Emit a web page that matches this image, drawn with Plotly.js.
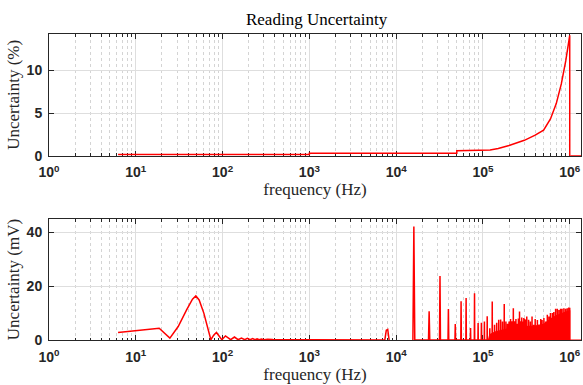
<!DOCTYPE html>
<html><head><meta charset="utf-8">
<script src="https://cdn.plot.ly/plotly-3.0.1.min.js"></script>
<style>html,body{margin:0;padding:0;background:#fff;}#chart{width:583px;height:385px;}</style>
</head><body><div id="chart"></div>
<script>
// ---- tick labels ----
const decadeVals = [1, 10, 100, 1000, 10000, 100000, 1000000];
const decadeLabels = ['10<sup>0</sup>', '10<sup>1</sup>', '10<sup>2</sup>', '10<sup>3</sup>', '10<sup>4</sup>', '10<sup>5</sup>', '10<sup>6</sup>'];
const topYTicks = [0, 5, 10];
const topYLabels = ['0', '5', '10'];
const bottomYTicks = [0, 20, 40];
const bottomYLabels = ['0', '20', '40'];

// ---- top panel: reading uncertainty (%) ----
const topFreq = [6.25, 1000, 1000, 50000, 50000, 100000, 121000, 150000, 200000, 300000, 400000, 500000, 600000, 700000, 800000, 900000, 1000000, 1000000, 1350000];
const topUnc  = [0.15, 0.15, 0.3, 0.3, 0.58, 0.6, 0.67, 0.85, 1.2, 1.8, 2.4, 3.0, 4.3, 6.1, 8.4, 11.1, 14.1, 0, 0];

// ---- bottom panel: uncertainty (mV) ----
// low-frequency part (Hz)
const lowFreq = [6.25, 18.6, 24.7, 30.8, 38.5, 45, 49.2, 53.7, 60.8, 66.4, 73.3, 79, 85, 98, 108, 124, 137, 151, 165, 180, 193, 208, 222, 237, 250, 265, 280, 300, 330, 380, 450, 600, 1000, 3000, 7400, 7700, 8000, 8300];
const lowUnc  = [2.8, 4.4, 0.7, 5.0, 11.2, 15.2, 16.4, 14.9, 10.0, 5.0, 0.1, 1.8, 2.8, 0.1, 1.5, 0.1, 1.1, 0.1, 0.7, 0.1, 0.6, 0.1, 0.5, 0.1, 0.4, 0.1, 0.35, 0.1, 0.3, 0.15, 0.2, 0.1, 0.05, 0.02, 0, 3.6, 3.9, 0];
// harmonic spikes (kHz)
const harmFreqKHz = [16, 24, 32, 40, 48, 56, 64, 72, 80, 88, 96, 104, 112, 120, 128, 136, 144, 152, 160, 168, 176, 184, 192, 200, 208, 216, 224, 232, 240, 248, 256, 264, 272, 280, 288, 296, 304, 312, 320, 336, 352, 368, 384, 400, 424, 440, 464, 480, 504, 528, 552, 576, 600, 632, 656, 688, 720, 752, 784, 816, 856, 896, 936, 976, 1000];
const harmUnc     = [42.2, 10.7, 23.8, 11.5, 5.9, 14.4, 15.6, 4.5, 17.4, 6.3, 6.4, 6.9, 8.8, 4.4, 14.3, 5.7, 6.4, 7.5, 7.6, 6.9, 13.4, 6.9, 6.0, 6.9, 7.8, 7.0, 11.8, 7.0, 7.8, 6.0, 8.0, 10.6, 7.0, 8.4, 6.9, 8.2, 7.8, 7.4, 8.7, 7.5, 6.9, 8.7, 5.7, 7.8, 7.4, 5.7, 7.8, 7.4, 8.2, 6.9, 9.4, 8.7, 10.0, 10.0, 10.4, 11.6, 11.6, 11.2, 11.6, 11.6, 11.8, 11.6, 11.8, 12.1, 12.0];
// dense noise floor above ~120 kHz (kHz)
const floorFreqKHz = [116, 120, 140, 170, 200, 250, 300, 400, 500, 550, 600, 700, 800, 900, 1000, 1000, 1350];
const floorUnc     = [0, 2.0, 3.0, 3.6, 4.2, 4.6, 5.0, 5.2, 5.8, 6.8, 7.8, 9.0, 9.8, 10.4, 10.8, 0, 0];

// ---- build traces ----
const RED = '#ff0000';
const spikeHalfWidthKHz = 0.4;
const spikeX = [], spikeY = [];
harmFreqKHz.forEach((f, i) => {
  spikeX.push((f - spikeHalfWidthKHz) * 1000, f * 1000, (f + spikeHalfWidthKHz) * 1000);
  spikeY.push(0, harmUnc[i], 0);
});

const traces = [
  {x: topFreq, y: topUnc, xaxis: 'x', yaxis: 'y', mode: 'lines', line: {color: RED, width: 1.5}, hoverinfo: 'skip'},
  {x: lowFreq, y: lowUnc, xaxis: 'x2', yaxis: 'y2', mode: 'lines', line: {color: RED, width: 1.5}, hoverinfo: 'skip'},
  {x: floorFreqKHz.map(f => f * 1000), y: floorUnc, xaxis: 'x2', yaxis: 'y2', mode: 'lines', fill: 'tozeroy', fillcolor: RED, line: {color: RED, width: 1.2}, hoverinfo: 'skip'},
  {x: spikeX, y: spikeY, xaxis: 'x2', yaxis: 'y2', mode: 'lines', line: {color: RED, width: 1.5}, hoverinfo: 'skip'}
];

const minorVals = [];
decadeVals.slice(0, 6).forEach(d => { for (let m = 2; m <= 9; m++) minorVals.push(d * m); });

const AX = '#262626';
const bold = s => '<b>' + s + '</b>';
const tickFont = {family: 'Liberation Sans, Arial, sans-serif', size: 14, color: AX};
const titleFont = {family: 'Liberation Serif, Times New Roman, serif', size: 17, color: AX};

function xAxis(anchor) {
  return {
    type: 'log', range: [0, 6.13], anchor: anchor,
    tickmode: 'array', tickvals: decadeVals, ticktext: decadeLabels.map(bold),
    ticks: 'inside', ticklen: 5, tickwidth: 1, tickcolor: AX,
    showline: true, linecolor: AX, linewidth: 1, mirror: 'ticks',
    showgrid: true, gridcolor: '#dedede', gridwidth: 1, zeroline: false,
    minor: {tickmode: 'array', tickvals: minorVals, ticks: 'inside', ticklen: 2.5, tickcolor: AX,
            showgrid: true, gridcolor: '#d4d4d4', griddash: 'dot', gridwidth: 1},
    tickfont: tickFont, layer: 'below traces', ticklabelstandoff: 4,
    title: {text: 'frequency (Hz)', font: titleFont, standoff: 1}
  };
}
function yAxis(anchor, range, ticks, labels, domain, label) {
  return {
    range: range, anchor: anchor, domain: domain,
    tickmode: 'array', tickvals: ticks, ticktext: labels.map(bold),
    ticks: 'inside', ticklen: 5, tickwidth: 1, tickcolor: AX,
    showline: true, linecolor: AX, linewidth: 1, mirror: 'ticks',
    showgrid: true, gridcolor: '#dedede', gridwidth: 1, zeroline: false,
    tickfont: tickFont, layer: 'below traces', ticklabelstandoff: 3,
    title: {text: label, font: titleFont, standoff: 2}
  };
}

const layout = {
  width: 583, height: 385,
  margin: {l: 49, r: 2, t: 34, b: 45},
  paper_bgcolor: '#ffffff', plot_bgcolor: '#ffffff',
  showlegend: false,
  title: {text: 'Reading Uncertainty', font: {family: 'Liberation Serif, Times New Roman, serif', size: 17, color: '#000000'},
          x: 0.543, xanchor: 'center', y: 0.951, yanchor: 'middle', yref: 'container'},
  xaxis: xAxis('y'),
  yaxis: yAxis('x', [0, 14.25], topYTicks, topYLabels, [0.6023, 1], 'Uncertainty (%)'),
  xaxis2: xAxis('y2'),
  yaxis2: yAxis('x2', [0, 45], bottomYTicks, bottomYLabels, [0, 0.3954], 'Uncertainty (mV)')
};

Plotly.newPlot('chart', traces, layout, {displayModeBar: false, staticPlot: true});
</script>
</body></html>
